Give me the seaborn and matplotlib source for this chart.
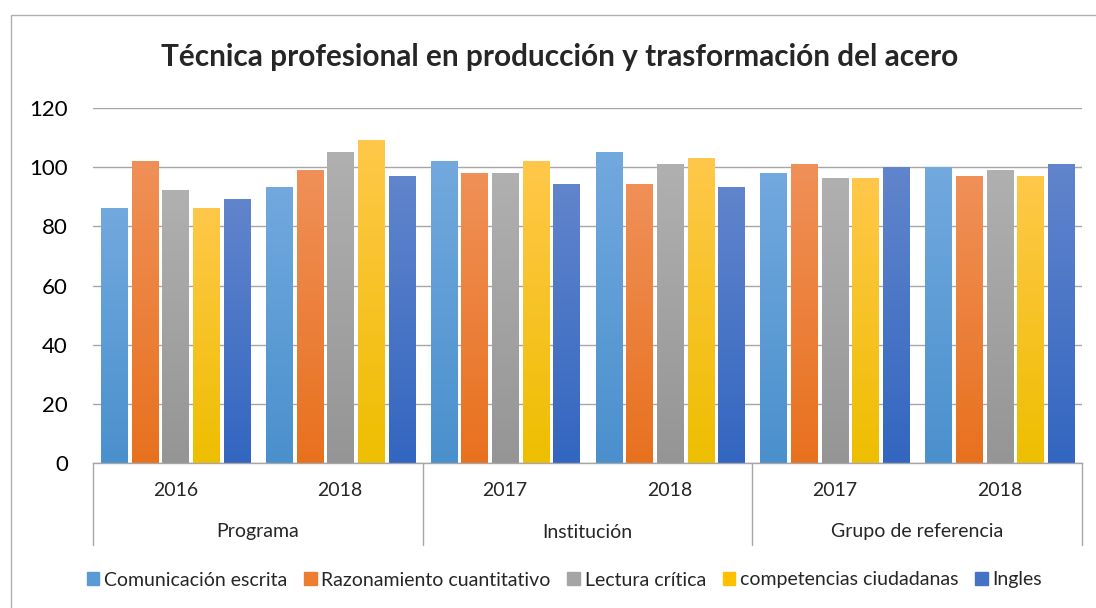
import numpy as np
import pandas as pd
import matplotlib
matplotlib.use("Agg")
import matplotlib.pyplot as plt
import seaborn as sns
from matplotlib.colors import LinearSegmentedColormap, to_hex
from matplotlib.patches import Rectangle

# -------- DATOS --------
GRUPOS = ["Programa", "Programa", "Institución", "Institución",
          "Grupo de referencia", "Grupo de referencia"]
ANIOS = ["2016", "2018", "2017", "2018", "2017", "2018"]
AREAS = ["Comunicación escrita", "Razonamiento cuantitativo", "Lectura crítica",
         "competencias ciudadanas", "Ingles"]

COMUNICACION = [86, 93, 102, 105, 98, 100]
RAZONAMIENTO = [102, 99, 98, 94, 101, 97]
LECTURA = [92, 105, 98, 101, 96, 99]
CIUDADANAS = [86, 109, 102, 103, 96, 97]
INGLES = [89, 97, 94, 93, 100, 101]

# colores (arriba claro, abajo oscuro, como el degradado de Excel)
COLOR_MEDIO = ["#5B9BD5", "#ED7D31", "#A5A5A5", "#FFC000", "#4472C4"]
COLOR_ARRIBA = ["#72A9DE", "#F09058", "#B0B0B0", "#FFC84A", "#6185CC"]
COLOR_ABAJO = ["#4A90CD", "#E8711E", "#959595", "#EEBE00", "#3366C0"]

GRIS = "#a6a6a6"

# -------- TABLA --------
cats = [f"{g}|{a}" for g, a in zip(GRUPOS, ANIOS)]
filas = []
for area, vals in zip(AREAS, [COMUNICACION, RAZONAMIENTO, LECTURA, CIUDADANAS, INGLES]):
    for c, v in zip(cats, vals):
        filas.append({"cat": c, "area": area, "valor": v})
df = pd.DataFrame(filas)

# -------- GRAFICO --------
sns.set_theme(style="white")
plt.rcParams["font.family"] = ["Lato", "DejaVu Sans"]

fig = plt.figure(figsize=(10.96, 6.08), dpi=100)
ax = fig.add_axes([93 / 1096, 1 - 463 / 608, (1082 - 93) / 1096, 355 / 608])

sns.barplot(data=df, x="cat", y="valor", hue="area", order=cats, hue_order=AREAS,
            palette=COLOR_MEDIO, saturation=1, width=0.93, gap=0.15, errorbar=None,
            legend=False, ax=ax)

# degradado en cada barra
medios = [to_hex(c) for c in COLOR_MEDIO]
for p in list(ax.patches):
    h = p.get_height()
    if h <= 0:
        continue
    k = medios.index(to_hex(p.get_facecolor()))
    cmap = LinearSegmentedColormap.from_list("g", [COLOR_ABAJO[k], COLOR_ARRIBA[k]])
    grad = np.linspace(0, 1, 256).reshape(-1, 1)
    ax.imshow(grad, extent=[p.get_x(), p.get_x() + p.get_width(), 0, h],
              origin="lower", cmap=cmap, aspect="auto", zorder=2)
    p.set_visible(False)

ax.set_xlim(-0.5, len(cats) - 0.5)
ax.set_ylim(0, 120)
ax.set_yticks(range(0, 121, 20))
ax.tick_params(axis="y", length=0, pad=18, labelsize=16, labelcolor="black")
ax.set_xticks([])
ax.set_xlabel("")
ax.set_ylabel("")
ax.yaxis.grid(True, color=GRIS, lw=1.0)
ax.set_axisbelow(True)
for s in ["left", "right", "top"]:
    ax.spines[s].set_visible(False)
ax.spines["bottom"].set_color(GRIS)
ax.spines["bottom"].set_linewidth(1.0)

# eje de categorias en dos niveles
tr = ax.get_xaxis_transform()
for i, a in enumerate(ANIOS):
    ax.text(i, -27 / 355, a, transform=tr, ha="center", va="center", fontsize=14)
limites = [-0.5]
for i in range(1, len(GRUPOS)):
    if GRUPOS[i] != GRUPOS[i - 1]:
        limites.append(i - 0.5)
limites.append(len(GRUPOS) - 0.5)
for b in limites:
    ax.plot([b, b], [0, -82 / 355], transform=tr, clip_on=False, color=GRIS, lw=1.0)
for i0, i1 in zip(limites[:-1], limites[1:]):
    g = GRUPOS[int(i0 + 0.5)]
    ax.text((i0 + i1) / 2, -69 / 355, g, transform=tr, ha="center", va="center", fontsize=14)

fig.text(0.511, 1 - 57 / 608, "Técnica profesional en producción y trasformación del acero",
         ha="center", va="center", fontsize=21.4, fontweight="bold")

manejadores = [Rectangle((0, 0), 1, 1, color=c) for c in COLOR_MEDIO]
fig.legend(manejadores, AREAS, loc="center", bbox_to_anchor=(0.515, 1 - 580 / 608),
           ncol=5, frameon=False, fontsize=14, handlelength=0.65, handleheight=0.65,
           handletextpad=0.25, columnspacing=0.85)

# borde del area del grafico
fig.add_artist(Rectangle((11 / 1096, -0.1), 1.2, 1 - 15 / 608 + 0.1,
                         transform=fig.transFigure, fill=False, edgecolor="#b0b0b0", lw=1))

fig.savefig("out.png", dpi=100)
